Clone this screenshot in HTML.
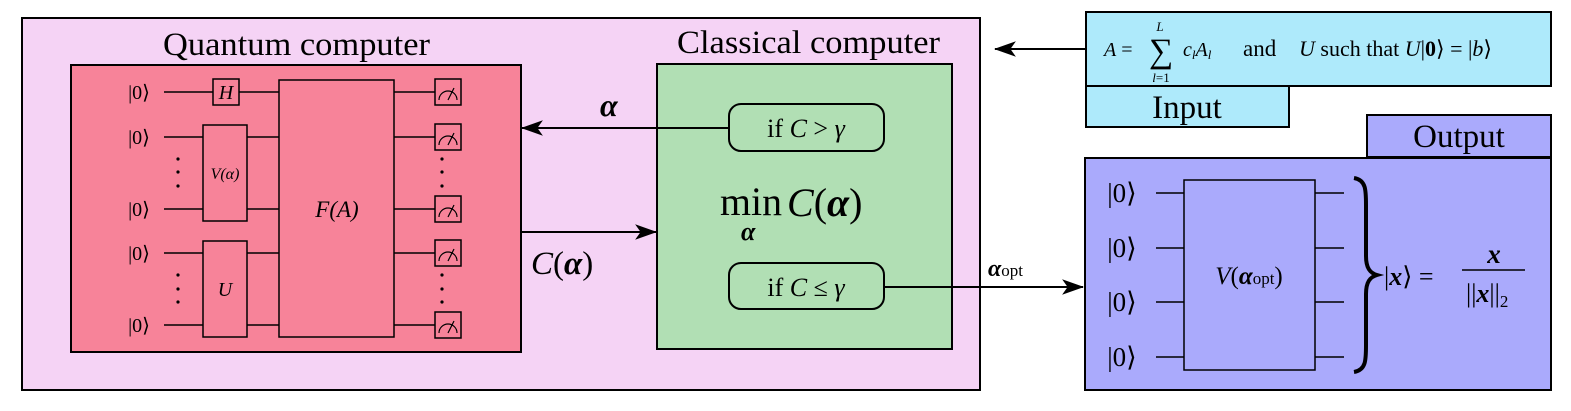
<!DOCTYPE html>
<html><head><meta charset="utf-8"><style>
html,body{margin:0;padding:0;background:#fff;}
svg{display:block;}
text{font-family:"Liberation Serif",serif;fill:#000;}
.i{font-style:italic;}
</style></head><body>
<svg width="1571" height="411" viewBox="0 0 1571 411" xmlns="http://www.w3.org/2000/svg">
<defs>
<marker id="ah" viewBox="0 0 20 14" refX="19" refY="7" markerWidth="22" markerHeight="16" markerUnits="userSpaceOnUse" orient="auto">
<path d="M0,0 L20,7 L0,14 L5,7 Z" fill="#000"/>
</marker>
</defs>
<rect x="22" y="18" width="958" height="372" fill="#f5d3f5" stroke="#000" stroke-width="2"/>
<text x="163" y="55" font-size="33" textLength="267" lengthAdjust="spacingAndGlyphs">Quantum computer</text>
<text x="677" y="53" font-size="33" textLength="263" lengthAdjust="spacingAndGlyphs">Classical computer</text>
<rect x="71" y="65" width="450" height="287" fill="#f78399" stroke="#000" stroke-width="2"/>
<g stroke="#000" stroke-width="1.5" fill="none">
<line x1="164" y1="92" x2="279" y2="92"/>
<line x1="164" y1="137" x2="279" y2="137"/>
<line x1="164" y1="209" x2="279" y2="209"/>
<line x1="164" y1="253" x2="279" y2="253"/>
<line x1="164" y1="325" x2="279" y2="325"/>
<line x1="394" y1="92" x2="435" y2="92"/>
<line x1="394" y1="137" x2="435" y2="137"/>
<line x1="394" y1="209" x2="435" y2="209"/>
<line x1="394" y1="253" x2="435" y2="253"/>
<line x1="394" y1="325" x2="435" y2="325"/>
</g>
<g stroke="#000" stroke-width="1.5" fill="#f78399">
<rect x="213" y="79" width="26" height="26"/>
<rect x="203" y="125" width="44" height="96"/>
<rect x="203" y="241" width="44" height="96"/>
<rect x="279" y="80" width="115" height="257"/>
<rect x="435" y="79" width="26" height="26"/>
<rect x="435" y="124" width="26" height="26"/>
<rect x="435" y="196" width="26" height="26"/>
<rect x="435" y="240" width="26" height="26"/>
<rect x="435" y="312" width="26" height="26"/>
</g>
<g stroke="#000" stroke-width="1.2" fill="none">
<path d="M439,100 A9,9 0 0 1 457,100 M448,100 L454,88"/>
<path d="M439,145 A9,9 0 0 1 457,145 M448,145 L454,133"/>
<path d="M439,217 A9,9 0 0 1 457,217 M448,217 L454,205"/>
<path d="M439,261 A9,9 0 0 1 457,261 M448,261 L454,249"/>
<path d="M439,333 A9,9 0 0 1 457,333 M448,333 L454,321"/>
</g>
<g fill="#000">
<circle cx="178" cy="159" r="1.6"/><circle cx="178" cy="172" r="1.6"/><circle cx="178" cy="186" r="1.6"/>
<circle cx="178" cy="275" r="1.6"/><circle cx="178" cy="289" r="1.6"/><circle cx="178" cy="302" r="1.6"/>
<circle cx="442" cy="159" r="1.6"/><circle cx="442" cy="172" r="1.6"/><circle cx="442" cy="186" r="1.6"/>
<circle cx="442" cy="275" r="1.6"/><circle cx="442" cy="289" r="1.6"/><circle cx="442" cy="302" r="1.6"/>
</g>
<g font-size="20" text-anchor="middle">
<text x="139" y="99">|0⟩</text><text x="139" y="144">|0⟩</text><text x="139" y="216">|0⟩</text>
<text x="139" y="260">|0⟩</text><text x="139" y="332">|0⟩</text>
</g>
<text x="226" y="99" font-size="20" class="i" text-anchor="middle">H</text>
<text x="225" y="179" font-size="16" class="i" text-anchor="middle">V(α)</text>
<text x="225" y="296" font-size="20" class="i" text-anchor="middle">U</text>
<text x="337" y="217" font-size="23" class="i" text-anchor="middle">F(A)</text>
<rect x="657" y="64" width="295" height="285" fill="#b1dfb4" stroke="#000" stroke-width="2"/>
<line x1="729" y1="128" x2="522" y2="128" stroke="#000" stroke-width="2" marker-end="url(#ah)"/>
<line x1="521" y1="232" x2="656" y2="232" stroke="#000" stroke-width="2" marker-end="url(#ah)"/>
<line x1="884" y1="287" x2="1083" y2="287" stroke="#000" stroke-width="2" marker-end="url(#ah)"/>
<rect x="729" y="104" width="155" height="47" rx="12" fill="#b1dfb4" stroke="#000" stroke-width="2"/>
<rect x="729" y="263" width="155" height="46" rx="12" fill="#b1dfb4" stroke="#000" stroke-width="2"/>
<text x="806" y="137" font-size="26" text-anchor="middle">if <tspan class="i">C</tspan> &gt; <tspan class="i">γ</tspan></text>
<text x="806" y="296" font-size="26" text-anchor="middle">if <tspan class="i">C</tspan> ≤ <tspan class="i">γ</tspan></text>
<text x="720" y="215" font-size="40" textLength="62" lengthAdjust="spacingAndGlyphs">min</text>
<text x="741" y="240" font-size="26" font-weight="bold" class="i">α</text>
<text x="787" y="216" font-size="40"><tspan class="i">C</tspan>(<tspan font-weight="bold" class="i">α</tspan>)</text>
<text x="600" y="116" font-size="32" font-weight="bold" class="i">α</text>
<text x="531" y="274" font-size="33"><tspan class="i">C</tspan>(<tspan font-weight="bold" class="i">α</tspan>)</text>
<text x="988" y="276" font-size="24" font-weight="bold" class="i">α<tspan font-weight="normal" font-style="normal" font-size="17">opt</tspan></text>
<rect x="1086" y="12" width="465" height="74" fill="#aeeafb" stroke="#000" stroke-width="2"/>
<rect x="1086" y="86" width="203" height="41" fill="#aeeafb" stroke="#000" stroke-width="2"/>
<text x="1187" y="118" font-size="33" text-anchor="middle">Input</text>
<line x1="1086" y1="49" x2="995" y2="49" stroke="#000" stroke-width="2" marker-end="url(#ah)"/>
<text x="1104" y="56" font-size="20"><tspan class="i">A</tspan> =</text>
<text x="1149" y="62" font-size="34">∑</text>
<text x="1160" y="31" font-size="13" class="i" text-anchor="middle">L</text>
<text x="1161" y="82" font-size="13" text-anchor="middle"><tspan class="i">l</tspan>=1</text>
<text x="1183" y="56" font-size="20" class="i">c<tspan font-size="13" dy="3">l</tspan><tspan dy="-3">A</tspan><tspan font-size="13" dy="3">l</tspan></text>
<text x="1243" y="56" font-size="23">and</text>
<text x="1299" y="56" font-size="22"><tspan class="i">U</tspan> such that <tspan class="i">U</tspan>|<tspan font-weight="bold">0</tspan>⟩ = |<tspan class="i">b</tspan>⟩</text>
<rect x="1367" y="115" width="184" height="42" fill="#aaaafc" stroke="#000" stroke-width="2"/>
<text x="1459" y="147" font-size="33" text-anchor="middle">Output</text>
<rect x="1085" y="158" width="466" height="232" fill="#aaaafc" stroke="#000" stroke-width="2"/>
<g stroke="#000" stroke-width="1.5">
<line x1="1156" y1="193" x2="1185" y2="193"/><line x1="1156" y1="248" x2="1185" y2="248"/>
<line x1="1156" y1="302" x2="1185" y2="302"/><line x1="1156" y1="357" x2="1185" y2="357"/>
<line x1="1315" y1="193" x2="1344" y2="193"/><line x1="1315" y1="248" x2="1344" y2="248"/>
<line x1="1315" y1="302" x2="1344" y2="302"/><line x1="1315" y1="357" x2="1344" y2="357"/>
</g>
<rect x="1184" y="180" width="131" height="190" fill="#aaaafc" stroke="#000" stroke-width="1.5"/>
<g font-size="27" text-anchor="middle">
<text x="1122" y="202">|0⟩</text><text x="1122" y="257">|0⟩</text>
<text x="1122" y="311">|0⟩</text><text x="1122" y="366">|0⟩</text>
</g>
<text x="1249" y="284" font-size="25" text-anchor="middle"><tspan class="i">V</tspan>(<tspan font-weight="bold" class="i">α</tspan><tspan font-size="17">opt</tspan>)</text>
<path d="M1354,178 C1366,180 1366,190 1366,205 L1366,256 C1366,268 1370,273 1377,275 C1370,277 1366,282 1366,294 L1366,345 C1366,360 1366,370 1354,372" fill="none" stroke="#000" stroke-width="4"/>
<text x="1384" y="285" font-size="26">|<tspan class="i" font-weight="bold">x</tspan>⟩ =</text>
<text x="1494" y="263" font-size="27" font-weight="bold" class="i" text-anchor="middle">x</text>
<line x1="1462" y1="270" x2="1525" y2="270" stroke="#000" stroke-width="1.5"/>
<text x="1466" y="302" font-size="26">||<tspan class="i" font-weight="bold">x</tspan>||<tspan font-size="17" dy="5">2</tspan></text>
</svg>
</body></html>
